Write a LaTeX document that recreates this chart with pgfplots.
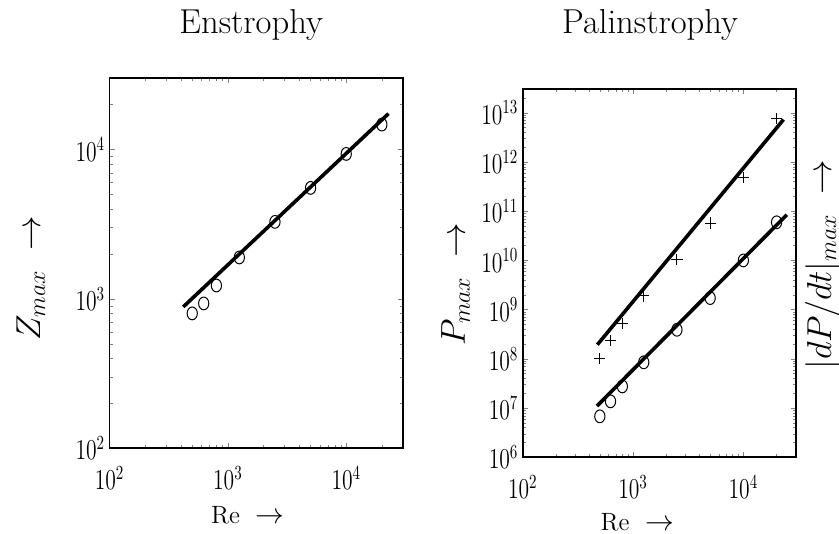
\documentclass[border=0pt]{standalone}
\usepackage{pgfplots}
\pgfplotsset{compat=1.18}

% Enstrophy maxima (circles) and power-law fit
\pgfplotstableread{
Re     Z
500    800
625    933
800    1230
1250   1895
2500   3280
5000   5540
10000  9350
20000  14700
}\enstrophy
\pgfplotstableread{
Re     Z
420    885
22750  17400
}\enstrophyfit

% Palinstrophy maxima (circles), |dP/dt| maxima (plus) and fits
\pgfplotstableread{
Re     P        dP
500    6.8e6    1.0e8
625    1.37e7   2.4e8
800    2.76e7   5.2e8
1250   8.5e7    1.9e9
2500   3.9e8    1.04e10
5000   1.72e9   5.75e10
10000  1.0e10   4.8e11
20000  5.95e10  7.6e12
}\palin
\pgfplotstableread{
Re     P
471    1.1e7
24800  8.5e10
}\palinfit
\pgfplotstableread{
Re     dP
475    1.94e8
23100  7.27e12
}\dpfit

\begin{document}
\begin{tikzpicture}
\begin{loglogaxis}[
  scale only axis,
  at={(54.75pt,42.85pt)}, anchor=south west,
  width=146.6pt, height=185pt,
  xmin=100, xmax=3e4, ymin=100, ymax=3e4,
  xtick={100,1000,10000},
  ytick={100,1000,10000},
  minor xtick={200,300,400,500,600,700,800,900,2000,3000,4000,5000,6000,7000,8000,9000,20000},
  minor ytick={200,300,400,500,600,700,800,900,2000,3000,4000,5000,6000,7000,8000,9000,20000},
  tick align=inside,
  major tick length=2.6pt,
  minor tick length=1.5pt,
  axis line style={line width=0.9pt},
  tick label style={font=\fontsize{14}{16}\selectfont, xscale=0.75},
  xticklabel style={yshift=-5.5pt},
  yticklabel style={xshift=0.5pt},
  every axis title shift=0pt,
  title={Enstrophy},
  title style={at={(axis description cs:0.483,1.1216)}, anchor=base, font=\fontsize{17.3}{20}\selectfont},
  xlabel={Re\hspace{8pt}{\fontsize{14.4}{16}\selectfont$\rightarrow$}},
  xlabel style={at={(axis description cs:0.472,-0.2027)}, anchor=base, font=\fontsize{12.5}{15}\selectfont},
  ylabel={$Z_{max}\;\rightarrow$},
  ylabel style={at={(axis description cs:-0.237,0.46)}, anchor=base, font=\fontsize{18}{21}\selectfont},
]
\addplot[only marks, mark=o, mark size=3.2pt, mark options={xscale=0.8, line width=0.5pt, black}]
  table[x=Re, y=Z] {\enstrophy};
\addplot[black, line width=1.8pt, no marks] table[x=Re, y=Z] {\enstrophyfit};
\end{loglogaxis}

\begin{loglogaxis}[
  scale only axis,
  clip mode=individual,
  at={(261.35pt,38.35pt)}, anchor=south west,
  width=136.65pt, height=184pt,
  xmin=100, xmax=3e4, ymin=1e6, ymax=3e13,
  xtick={100,1000,10000},
  ytick={1e6,1e7,1e8,1e9,1e10,1e11,1e12,1e13},
  minor xtick={200,300,400,500,600,700,800,900,2000,3000,4000,5000,6000,7000,8000,9000,20000},
  minor ytick={2e6,3e6,4e6,5e6,6e6,7e6,8e6,9e6,
               2e7,3e7,4e7,5e7,6e7,7e7,8e7,9e7,
               2e8,3e8,4e8,5e8,6e8,7e8,8e8,9e8,
               2e9,3e9,4e9,5e9,6e9,7e9,8e9,9e9,
               2e10,3e10,4e10,5e10,6e10,7e10,8e10,9e10,
               2e11,3e11,4e11,5e11,6e11,7e11,8e11,9e11,
               2e12,3e12,4e12,5e12,6e12,7e12,8e12,9e12,2e13},
  tick align=inside,
  major tick length=2.6pt,
  minor tick length=1.5pt,
  axis line style={line width=0.9pt},
  tick label style={font=\fontsize{14}{16}\selectfont, xscale=0.75},
  xticklabel style={yshift=-5.5pt},
  yticklabel style={xshift=0.5pt},
  every axis title shift=0pt,
  title={Palinstrophy},
  title style={at={(axis description cs:0.466,1.152)}, anchor=base, font=\fontsize{17.3}{20}\selectfont},
  xlabel={Re\hspace{8pt}{\fontsize{14.4}{16}\selectfont$\rightarrow$}},
  xlabel style={at={(axis description cs:0.42,-0.1976)}, anchor=base, font=\fontsize{12.5}{15}\selectfont},
  ylabel={$P_{max}\;\rightarrow$},
  ylabel style={at={(axis description cs:-0.212,0.47)}, anchor=base, font=\fontsize{18}{21}\selectfont},
]
\addplot[only marks, mark=+, mark size=2.8pt, mark options={line width=0.5pt, black}]
  table[x=Re, y=dP] {\palin};
\addplot[only marks, mark=o, mark size=3.2pt, mark options={xscale=0.8, line width=0.5pt, black}]
  table[x=Re, y=P] {\palin};
\addplot[black, line width=1.8pt, no marks] table[x=Re, y=dP] {\dpfit};
\addplot[black, line width=1.8pt, no marks] table[x=Re, y=P] {\palinfit};
\node[rotate=90, anchor=base, font=\fontsize{18}{21}\selectfont]
  at (axis description cs:1.128,0.5226) {$|dP/dt|_{max}\;\rightarrow$};
\end{loglogaxis}

\pgfresetboundingbox
\path[use as bounding box] (0pt,0pt) rectangle (419.5pt,267pt);
\end{tikzpicture}
\end{document}
